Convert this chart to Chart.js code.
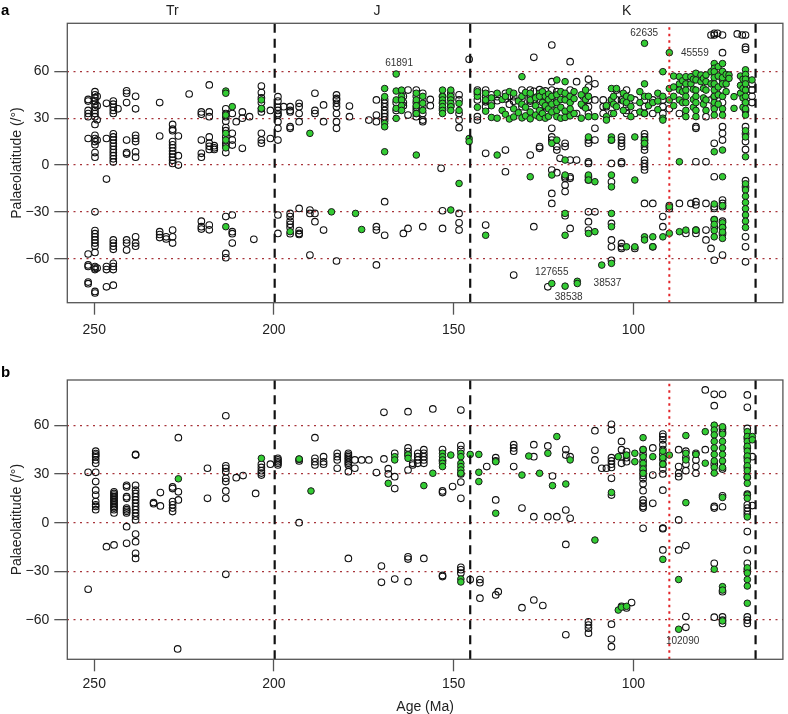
<!DOCTYPE html>
<html><head><meta charset="utf-8">
<script src="https://cdn.jsdelivr.net/npm/chart.js@4.4.0/dist/chart.umd.min.js"></script>
<style>
html,body{margin:0;padding:0;background:#fff;width:788px;height:714px;overflow:hidden}
canvas{position:absolute;left:0}
#ca{top:0}
#cb{top:350px}
</style></head><body>
<canvas id="ca" width="788" height="350"></canvas>
<canvas id="cb" width="788" height="364"></canvas>
<script>
// ---------- tick labels / reference values ----------
const ageTicks = [250, 200, 150, 100];
const latTicks = [-60, -30, 0, 30, 60];
const boundaryAges = [199.8, 145.4, 66];
const redLineAge = [90];
const eraNames = ['Tr', 'J', 'K'];
const eraAges = [228.3, 171.3, 101.9];

// ---------- panel a : [age, [palaeolatitudes]] ----------
const aOpen = [
[251.7,[42,41,35,33,31,17,-57,-64,-65,-75,-76]],
[249.8,[47,45,43,41,39,37,35,33,31,26,19,17,15,13,8,5,-30,-42,-44,-46,-48,-50,-52,-56,-65,-66,-67,-81,-82]],
[249.2,[44,38,29,16,-66]],
[246.6,[39.5,17,-9,-65,-67,-78]],
[244.7,[41,39,37,35,33,20,18,16,14,12,10,8,6,4,2,-48,-50,-52,-54,-63,-65,-67,-77]],
[243.4,[36]],
[241.0,[47.6,46,40,16,8,7,-48,-50,-54.5]],
[238.5,[44,36,19,17,15,8.5,5,-46,-50,-52]],
[231.8,[40,18.6,-42.7,-44.5,-46.5]],
[230.0,[-46,-47.4]],
[228.2,[26,23,22,15,13,11,9,7,5,3,1,-41.7,-46,-50]],
[226.6,[18.6,6,0]],
[223.6,[45.5]],
[220.2,[34,32.5,16,7.5,5,-36,-39.5,-41]],
[218.0,[51.3,34,31,18,14,12,10,-38.5,-41.5]],
[216.6,[12.4,11,10]],
[213.4,[36,33,31,28,24,22,18,14,12,8,-33,-56.6,-59.4]],
[211.6,[33,20.3,16,12.8,-32,-42.7,-44,-50]],
[210.5,[27.8]],
[208.8,[34,30,10.7]],
[206.8,[31]],
[205.6,[-47.6]],
[203.5,[50.6,46.4,43,40,36,34,20.3,16,14]],
[201.0,[35,17]],
[198.9,[43.8,41,37,35,33,32,27.8,23.5,16,-32,-43.8]],
[197.3,[37.4]],
[195.5,[37.4,35,34,24.6,23.5,-31,-33,-36,-38,-40,-44]],
[193.0,[39.5,37.4,33,27.8,-27.8,-42,-43.8,-44.5]],
[190.0,[-28.8,-31,-57.7]],
[188.6,[46,35,33,-31,-36.3]],
[186.2,[38.5,27.8,-41.7]],
[182.6,[44.9,42.7,41.7,39.5,37.4,33,27.8,23.5,-61.5]],
[179.0,[37.8,31]],
[173.6,[28.8]],
[171.5,[41.7,32,27.8,-39.5,-41.7,-64]],
[169.2,[41.7,39.5,37.4,35,33,31,28.8,-23.5,-45]],
[166.0,[40,35]],
[164.0,[44,40,38,-43.8]],
[162.7,[48,32,-40.6]],
[160.4,[48,44,40,37,35,33,31]],
[158.6,[46,41.7,37.4,33,28.8,27.8,-39.5]],
[156.5,[42,38]],
[153.5,[-2.1]],
[153.1,[44,40,36,-29.3,-40.6]],
[150.8,[46,43,38]],
[148.5,[45,41.7,33,28.8,23.9,-31,-37,-41.7]],
[145.7,[67.7]],
[143.4,[48,46,41.7,31,28.8]],
[141.1,[48,43.8,40.5,37.4,7.5,-38.5]],
[139.5,[45,40]],
[137.9,[43.8,41.2]],
[135.6,[46,42.3,9.6,-4.3]],
[134.5,[44,39]],
[133.3,[43.8,40.9,-70.5]],
[131.0,[48,42.5,37.4]],
[128.7,[48,44.9,43.3,41,39.6,6.4]],
[127.7,[69,47.2,41.7,-39.5]],
[126.1,[48.3,42.2,11.8,10.7]],
[124.5,[47.5,45.2,41,37.4]],
[123.8,[-78]],
[122.7,[76.9,53.4,48,42.5,37,23.5,18,16,-3.2,-18.2,-24.6]],
[121.3,[47,41.2,37.8,11.8,9.6,-4.9]],
[120.4,[4.3]],
[119.0,[42.4,13.9,11.8,-7.5,-8.5,-12.8,-17,-32.5]],
[117.6,[66.2,48,40.8,3.2,-7.5,-8.5,-40.6]],
[115.8,[53.4,33,3.2]],
[114.0,[44,38]],
[112.5,[55,50,41.7,37.4,33,16,14,2.1,1,-7.5,-9.6,-30,-36.3,-41.7]],
[110.7,[52,41.7,23.5,16,-30]],
[108.4,[41.7,37.4,33]],
[107.5,[37.4]],
[106.1,[41.7,33,16,1,-10.7,-37.4,-48,-52.4,-61]],
[104.7,[48,41.7]],
[103.3,[41.7,18,16,13.9,11.8,2.1,1,-50.2,-52.4,-53.4]],
[101.9,[48,41.7,37.4,35,33]],
[99.6,[41.7,33,-53.4]],
[96.9,[41.7,37.4,33,20,18,16,13.9,11.8,9.6,3.2,1,-1.1,-3.2,-24.6]],
[94.6,[41.7,33,-24.6,-52.4]],
[91.8,[41.7,37.4,33,-33,-39.5]],
[90.0,[-26,-28,36]],
[87.2,[33,-24.6]],
[85.4,[-43.8]],
[84.0,[53.4,-24.6]],
[82.6,[24.6,23.5,2.1,-23.5,-25.6,-41.7,-43.8]],
[79.8,[31,2.1,-24.6,-41.7,-48]],
[78.4,[83.3,41.7,-53.4]],
[77.5,[84.4,83.3,43.8,38,13.9,-7.5,-26.7,-27.8,-35,-40,-61]],
[76.6,[84.4]],
[75.2,[83.3,72,55,48,40,24.6,20.3,16,-22.4,-24.6,-26.7,-36,-40,-44,-57.7]],
[71.1,[84]],
[69.7,[83.3]],
[68.8,[83.3,75.5,74,56,48,40,35,24.6,20,15,10,-10,-14,-46,-52.4,-62]],
[67.0,[52,48,44,40]]
];
const aGreen = [
[213.4,[47.4,46,32,20.3,16,11,-39.5]],
[211.6,[37.4]],
[203.5,[41.7,36.3]],
[195.5,[-42.7]],
[190.0,[20.3]],
[184.0,[-30]],
[177.3,[-31]],
[175.6,[-41.3]],
[169.2,[49,43.8,26.7,24.5,8.5]],
[166.0,[58.3,47.4,41.7,36.3,29.9]],
[164.5,[48,44,41.7,38,35]],
[160.4,[46,41.7,38,33,6.4]],
[158.6,[44,39.5,35]],
[153.1,[48,43.8,41.7,39.5,37.4,35,33]],
[150.8,[48,44,41.7,39.5,37.4,35,-28.8]],
[148.5,[39.5,35,-11.8]],
[145.7,[17,15]],
[143.4,[44,37,47]],
[141.1,[46,41.7,34.5,-45]],
[139.5,[43,38,30.5]],
[137.9,[46,30,6.4]],
[136.5,[42,35]],
[135.6,[44,32.5]],
[134.5,[47,29.5]],
[133.3,[46,36,30.8]],
[132.0,[41,33.5]],
[131.0,[56.6,44,39,30.2]],
[130.0,[46.5,37,31.5]],
[128.7,[46,41.7,34,29.6,-7.5]],
[127.2,[43,38,32]],
[126.1,[46,44,35,30.5]],
[125.3,[47,40,33]],
[124.5,[44,38,30]],
[123.6,[45.5,42,36,31.2]],
[122.7,[44,39,34,13.9,-6.4,-75.9]],
[121.3,[54.5,45,40,35,31,16]],
[120.2,[47,42,37,30]],
[119.0,[53.4,46,41.7,34.5,30.5,3.2,-6.4,-31,-45,-77.6]],
[117.6,[44,40,36,31.5]],
[116.5,[47,42.5,33]],
[115.6,[-74.5,-75.9]],
[114.5,[45,39,30]],
[113.3,[48,42,36.5]],
[112.5,[44,31,18,-6.4,-9.6,-43.8]],
[110.7,[31,-10.7,-42.7]],
[108.8,[-64.1]],
[107.5,[31,28.8,38]],
[106.1,[49,41.7,18,16,-6.4,-14,-31,-39.5,-63]],
[105.5,[44,39,33]],
[104.7,[49,37.4]],
[102.8,[46,41,35]],
[101.9,[44,40,-52.4]],
[100.7,[43,37.5,31]],
[99.6,[18,-9.6,-52.4]],
[98.2,[47,40,34]],
[96.9,[78,52,44,33,16,13.9,-46,-48]],
[95.8,[44,38]],
[94.6,[40,-46,-52.4]],
[93.2,[46,41,35.5]],
[91.8,[59.8,44,30,28.8,-46]],
[90.0,[72,49,41.7,-26.7,-43.8]],
[88.8,[57,50,44,38]],
[87.2,[56.6,52,48,41.7,2.1,-42.7]],
[86.3,[54,47,40]],
[85.4,[56.6,52,48,44,40,35,31,-41.7]],
[84.0,[56.6,52]],
[83.3,[55,48.5,42,37]],
[82.6,[58.8,54.5,48,44,40,35,31,-41.7]],
[81.2,[57.7,53.4]],
[80.5,[55.5,49,43,39]],
[79.8,[57.7,53.4,48,41.7,35]],
[78.4,[59.8,52]],
[77.5,[65,62,59.8,56,52,48,44,40,36,32,8.5,-25,-35,-38,-42,-46]],
[76.4,[63,57,50,45,39]],
[75.2,[65,60,56,52,44,36,32,9.6,-7.5,-26,-37,-40,-43,-47]],
[74.2,[58,52,47]],
[73.4,[57.7,55.5]],
[72.0,[43.8,36.3]],
[70.2,[57,51,46]],
[69.5,[55,49,43,37]],
[68.8,[61,58,55,52,48,44,40,36,32,22,18,5.3,-12,-16,-20,-24,-28,-32,-36,-40]],
[67.0,[54.5]]
];
const aNotes = ['61891', '62635', '45559', '127655', '38537', '38538'];
const aNoteAge = [165.2, 97.0, 82.9, 122.7, 107.2, 118.0];
const aNoteLat = [65.4, 84.6, 71.6, -69.0, -75.8, -85.0];

// ---------- panel b ----------
const bOpen = [
[251.7,[31,-41]],
[249.6,[44,42.5,41.6,40.5,38.6,36.5,31,25.3,20,17,13,11,10,8]],
[246.6,[-14.8]],
[244.5,[19,18,17,16,15,14,13,12,11,10,9,8,6,-13.7]],
[241.0,[23,22,16,15,9,8,7,6,-2.5,-12.7]],
[238.5,[42,41.6,23,20,18,16,14,12,10,8,6,4,1.7,-7,-11.7,-18.9,-22]],
[233.5,[12.4,11.7]],
[231.6,[18.5,10.3]],
[228.2,[22,21,13,11,9,6.8]],
[226.6,[52.3,19,14]],
[226.8,[-77.7]],
[218.5,[33.5,15]],
[213.4,[65.8,35,33.5,31.4,27.3,25.3,19.5,15,-31.8]],
[210.5,[27.7]],
[208.6,[29]],
[205.1,[18]],
[203.5,[36,34,32,30.5,29.3]],
[201.0,[36]],
[198.9,[39.6,38.6,37.5,36.6,35.5]],
[193.0,[0,39,38]],
[188.6,[52.3,39.6,37.5,35.5]],
[186.2,[40.6,37.5,36]],
[182.4,[42.7,40.6,38.6,33.5]],
[179.3,[42.7,41.6,40.6,39.6,38.6,37.5,36.5,35.5,31.4,-22]],
[177.5,[38.6,33.5]],
[175.6,[38.6]],
[173.6,[38.6]],
[171.5,[30.8]],
[170.1,[-26.7,-36.7]],
[169.4,[39.2,67.9]],
[168.2,[33.2,30]],
[166.4,[42.7,28.3,21,-34.7]],
[162.7,[68.3,46,43.8,41.7,32.4,-21,-22.4,-36.3]],
[161.4,[36.5,35.5]],
[160.0,[42.7,40.6,38.6,36.5]],
[158.3,[44.9,42.7,40.6,38.6,36.5,-22]],
[155.8,[70]],
[153.1,[45,38,19.5,18.5,-32.5,-33.2]],
[150.3,[22.2]],
[148.0,[69.3,47.5,45,30,25,15,-27.5,-29,-31]],
[145.4,[-35]],
[142.7,[-46.5,-35,-37]],
[140.8,[34.5]],
[138.3,[40,38,14,-44.5]],
[137.6,[-42.5]],
[133.3,[48,46,44,34.5]],
[131.0,[9,-52.3]],
[127.7,[48,40.6,3.7,-47.6]],
[125.2,[-51]],
[123.8,[47.2,3.7]],
[122.5,[28.7]],
[121.3,[3.7]],
[118.8,[45,41.6,7.8,-13.4,-69]],
[117.6,[40.6,2.7]],
[112.5,[-61,-63,-65,-68]],
[110.7,[56.6,44.5,38.6]],
[108.8,[33.5]],
[107.5,[33.5]],
[106.1,[60.5,57,40,38,36,34,27.3,17,-62.5,-71.6,-76.3]],
[103.3,[50,44.9,40.6,36.5,-51.5]],
[101.9,[43.8,40,37.5,-52.5]],
[100.5,[-49.2]],
[97.3,[45,42,38,35,32,29,27,24,19.7,14,12,10,9,-3.5]],
[94.6,[46,29.3,11.9]],
[91.8,[54.5,53,51,48,45,42,39,36,33,30,20,-3.3,-3.7,-16.8]],
[87.4,[44.9,34.5,30.4,28.3,1.7,-16.8]],
[85.4,[44,40,36,32,-14.1,-57.8,-64.4]],
[82.6,[42.7,38.6,34.5,30.4]],
[80.0,[81.7,44.9]],
[77.5,[79,72,36,10,9,-25,-58.2]],
[75.2,[79,58,55.5,33,16.5,9.8,-42.5,-58,-60,-62]],
[68.3,[78.6,71,58,52,46,40,34,28,17.5,11,9,7,5,-5.5,-16.8,-25,-29,-58,-60,-62]],
[66.9,[40.6,10.5]]
];
const bGreen = [
[226.6,[27]],
[203.5,[39.6]],
[193.0,[39.2]],
[189.7,[19.5]],
[168.2,[24.2]],
[166.4,[40.6,38.6]],
[162.7,[41.7,39.6]],
[158.3,[22.8]],
[155.8,[30.4]],
[153.1,[42.7,40.6,38.6,36.5,34.5]],
[150.8,[41.6]],
[148.0,[42.7,40.6,36.5,34.5,32.4,30.4,-34.7,-36.5]],
[145.4,[42]],
[143.0,[42,31,25.3]],
[138.3,[37.5,5.8]],
[131.0,[29.3]],
[129.1,[41]],
[126.1,[30.4]],
[123.8,[42.7]],
[122.5,[22.8]],
[121.3,[53]],
[118.8,[23.8]],
[117.6,[38.6]],
[110.7,[-10.7]],
[106.1,[18.6]],
[104.2,[40.6,-53.8]],
[103.3,[-52]],
[101.9,[41.6,-51.5]],
[99.6,[42.7,37.5]],
[97.3,[52.3,45,40.6,36.5,33,30.4]],
[94.6,[40.6]],
[91.8,[44,40,36,-22.6]],
[90.0,[41.6]],
[87.4,[-35,-65.6]],
[85.4,[53.6,42.7,38.6,12.3]],
[82.6,[42]],
[80.0,[56,36.6]],
[77.5,[60,57,54,50,46,42,38,34,30.5,-28.7]],
[75.2,[59,54.5,50,46,42,38,34,15.5,-39.4,-41.5,-60.5]],
[68.3,[56,53,50,47,44,41,38,35,32,28,24.2,17,15,3.5,-27.8,-31,-35,-39,-49.6]],
[66.9,[53,51]]
];
const bNotes = ['102090'];
const bNoteAge = [86.3];
const bNoteLat = [-73.2];

// ---------- rendering ----------
const FONT = "'Liberation Sans', Arial, Helvetica, sans-serif";
Chart.defaults.font.family = FONT;

function toPoints(cols) {
  const out = [];
  cols.forEach(c => c[1].forEach(l => out.push({x: c[0], y: l})));
  return out;
}

function overlay(p) {
  return {
    id: 'overlay' + p.letter,
    afterDatasetsDraw(chart) {
      const ctx = chart.ctx, a = chart.chartArea;
      ctx.save();
      ctx.strokeStyle = '#555';
      ctx.lineWidth = 1.3;
      ctx.strokeRect(a.left, a.top, a.right - a.left, a.bottom - a.top);
      ctx.restore();
    },
    afterDraw(chart) {
      const ctx = chart.ctx, xs = chart.scales.x, ys = chart.scales.y;
      ctx.save();
      ctx.fillStyle = '#333';
      ctx.font = '10px ' + FONT;
      ctx.textAlign = 'center';
      ctx.textBaseline = 'middle';
      p.notes.forEach((t, i) => {
        ctx.fillText(t, xs.getPixelForValue(p.noteAge[i]), ys.getPixelForValue(p.noteLat[i]));
      });
      if (p.eras) {
        ctx.fillStyle = '#222';
        ctx.font = '14px ' + FONT;
        eraNames.forEach((t, i) => ctx.fillText(t, xs.getPixelForValue(eraAges[i]), p.eraY));
      }
      ctx.fillStyle = '#000';
      ctx.font = 'bold 15px ' + FONT;
      ctx.textAlign = 'left';
      ctx.textBaseline = 'alphabetic';
      ctx.fillText(p.letter, 1, p.letterY);
      ctx.restore();
    }
  };
}

function makePanel(id, p) {
  const lines = boundaryAges.map(a => ({
    type: 'line', data: [{x: a, y: p.yMin}, {x: a, y: p.yMax}],
    borderColor: '#111', borderWidth: 2.2, borderDash: [9, 6],
    pointRadius: 0, fill: false, order: 0
  }));
  redLineAge.forEach(a => lines.push({
    type: 'line', data: [{x: a, y: p.yMin}, {x: a, y: p.yMax}],
    borderColor: '#e3262a', borderWidth: 2, borderDash: [2.5, 4],
    pointRadius: 0, fill: false, order: 0
  }));
  const datasets = lines.concat([
    {data: toPoints(p.green), pointRadius: 3.3, pointBorderWidth: 1,
     pointBackgroundColor: '#33cc33', pointBorderColor: '#1a1a1a', order: 1},
    {data: toPoints(p.open), pointRadius: 3.3, pointBorderWidth: 1.1,
     pointBackgroundColor: 'rgba(0,0,0,0)', pointBorderColor: '#111', order: 2}
  ]);
  return new Chart(document.getElementById(id), {
    type: 'scatter',
    data: {datasets},
    plugins: [overlay(p)],
    options: {
      responsive: false, animation: false, events: [],
      devicePixelRatio: 1,
      layout: {padding: {top: p.padTop, right: 0.5, bottom: 0, left: 0}},
      plugins: {legend: {display: false}, tooltip: {enabled: false}},
      scales: {
        x: {
          type: 'linear', reverse: true, min: 58.4, max: 257.5,
          afterBuildTicks: s => { s.ticks = ageTicks.map(v => ({value: v})); },
          afterFit: s => { s.height = p.xH; },
          border: {display: false},
          grid: {display: true, drawOnChartArea: false, drawTicks: true,
                 tickLength: 12, tickColor: '#555', tickWidth: 1.3},
          ticks: {color: '#222', font: {size: 14}, padding: p.xPad,
                  maxRotation: 0, autoSkip: false},
          title: {display: p.xTitle, text: 'Age (Ma)', color: '#222',
                  font: {size: 14, lineHeight: 1}, padding: {top: 0, bottom: 0}}
        },
        y: {
          type: 'linear', min: p.yMin, max: p.yMax,
          afterBuildTicks: s => { s.ticks = latTicks.map(v => ({value: v})); },
          afterFit: s => { s.width = 67.3; },
          border: {display: false, dash: [2, 4.5]},
          grid: {display: true, drawOnChartArea: true, drawTicks: true,
                 color: '#a8343a', lineWidth: 1.3,
                 tickLength: 13, tickColor: '#555', tickWidth: 1.3, tickBorderDash: [20, 0]},
          ticks: {color: '#222', font: {size: 14}, padding: 5,
                  callback: v => v < 0 ? '\u2212' + Math.abs(v) : String(v)},
          title: {display: true, text: 'Palaeolatitude (/\u00b0)', color: '#222',
                  font: {size: 14, lineHeight: 1}, padding: {top: 10, bottom: 0}}
        }
      }
    }
  });
}

makePanel('ca', {
  letter: 'a', letterY: 15, open: aOpen, green: aGreen,
  yMin: -88.2, yMax: 90.8, padTop: 23.3, xH: 47.3, xPad: 7, xTitle: false,
  notes: aNotes, noteAge: aNoteAge, noteLat: aNoteLat, eras: true, eraY: 11
});
makePanel('cb', {
  letter: 'b', letterY: 26.7, open: bOpen, green: bGreen,
  yMin: -84.1, yMax: 87.8, padTop: 30, xH: 54.7, xPad: 4, xTitle: true,
  notes: bNotes, noteAge: bNoteAge, noteLat: bNoteLat, eras: false
});
</script></body></html>
